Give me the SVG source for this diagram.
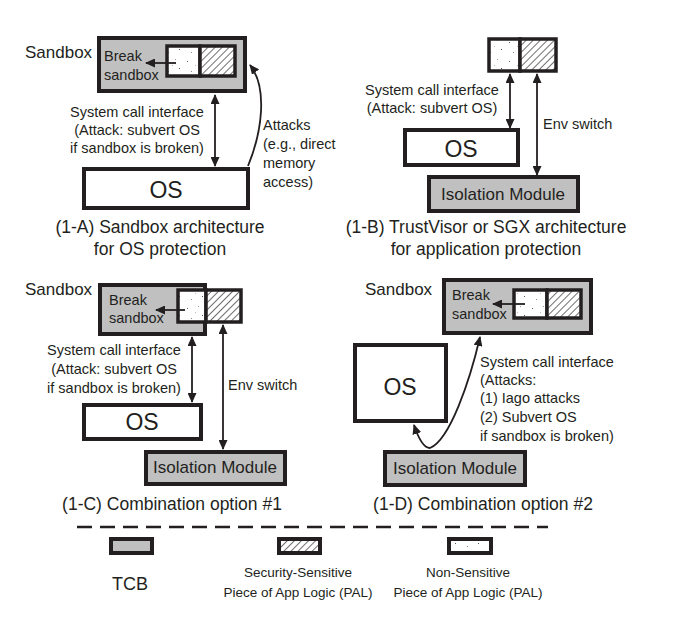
<svg xmlns="http://www.w3.org/2000/svg" width="695" height="620" viewBox="0 0 695 620">
<style>
text{font-family:"Liberation Sans",Arial,sans-serif;fill:#231f20}
.s{font-size:14.5px}
.lbl{font-size:17px}
.os{font-size:23px}
.cap{font-size:17.5px}
.leg{font-size:13.5px}
.m{text-anchor:middle}
.tcb{fill:#c0c0c0;stroke:#231f20;stroke-width:4}
.plain{fill:#fff;stroke:#231f20;stroke-width:4}
.dot{fill:url(#dots);stroke:#231f20;stroke-width:3.5}
.hat{fill:url(#hatch);stroke:#231f20;stroke-width:3.5}
.c{fill:none;stroke:#231f20;stroke-width:1.8}
.a2{marker-start:url(#ah);marker-end:url(#ah)}
.a1{marker-end:url(#ah)}
</style>
<defs>
<pattern id="hatch" patternUnits="userSpaceOnUse" width="5" height="5" patternTransform="rotate(45)">
<rect width="5" height="5" fill="#fff"/>
<line x1="0" y1="0" x2="0" y2="5" stroke="#231f20" stroke-width="1.3"/>
</pattern>
<pattern id="dots" patternUnits="userSpaceOnUse" width="23" height="19">
<rect width="23" height="19" fill="#fff"/>
<rect x="3" y="4" width="1" height="1" fill="#666"/>
<rect x="14" y="2" width="1" height="1" fill="#999"/>
<rect x="18" y="11" width="1" height="1" fill="#555"/>
<rect x="7" y="14" width="1" height="1" fill="#888"/>
<rect x="11" y="8" width="1" height="1" fill="#bbb"/>
</pattern>
<marker id="ah" markerUnits="userSpaceOnUse" markerWidth="10" markerHeight="9" refX="9" refY="4.5" orient="auto-start-reverse">
<path d="M0,0 L10,4.5 L0,9 z" fill="#231f20"/>
</marker>
</defs>

<!-- 1-A -->
<g id="a-sandbox">
<rect class="tcb" x="99" y="38" width="146" height="53"/>
<rect class="dot" x="167" y="46" width="33" height="30"/>
<rect class="hat" x="200" y="46" width="35" height="30"/>
<text class="lbl" x="25" y="58">Sandbox</text>
<text class="s" x="104" y="61">Break</text>
<text class="s" x="104" y="80">sandbox</text>
</g>
<g id="a-os">
<rect class="plain" x="84" y="169" width="164" height="39"/>
<text class="os m" x="166" y="198">OS</text>
</g>
<g id="a-labels">
<text class="s m" x="137" y="117">System call interface</text>
<text class="s m" x="137" y="135">(Attack: subvert OS</text>
<text class="s m" x="137" y="153">if sandbox is broken)</text>
<text class="s" x="263" y="130">Attacks</text>
<text class="s" x="263" y="149">(e.g., direct</text>
<text class="s" x="263" y="168">memory</text>
<text class="s" x="263" y="187">access)</text>
<text class="cap m" x="160" y="233">(1-A) Sandbox architecture</text>
<text class="cap m" x="160" y="255">for OS protection</text>
</g>

<!-- 1-B -->
<g id="b-pal">
<rect class="dot" x="489" y="39" width="31" height="32"/>
<rect class="hat" x="520" y="39" width="36" height="32"/>
</g>
<g id="b-os">
<rect class="plain" x="405" y="130" width="113" height="35"/>
<text class="os m" x="461" y="157">OS</text>
</g>
<g id="b-iso">
<rect class="tcb" x="429" y="177" width="149" height="34"/>
<text class="lbl m" x="503" y="200">Isolation Module</text>
</g>
<g id="b-labels">
<text class="s m" x="432" y="95">System call interface</text>
<text class="s m" x="432" y="113">(Attack: subvert OS)</text>
<text class="s" x="543" y="129">Env switch</text>
<text class="cap m" x="486" y="233">(1-B) TrustVisor or SGX architecture</text>
<text class="cap m" x="486" y="255">for application protection</text>
</g>

<!-- 1-C -->
<g id="c-sandbox">
<rect class="tcb" x="100" y="285" width="105" height="49"/>
<rect class="dot" x="178" y="290" width="28" height="32"/>
<rect class="hat" x="206" y="290" width="35" height="32"/>
<text class="lbl" x="25" y="295">Sandbox</text>
<text class="s" x="109" y="305">Break</text>
<text class="s" x="109" y="323">sandbox</text>
</g>
<g id="c-os">
<rect class="plain" x="84" y="405" width="117" height="34"/>
<text class="os m" x="142" y="430">OS</text>
</g>
<g id="c-iso">
<rect class="tcb" x="146" y="452" width="139" height="32"/>
<text class="lbl m" x="215" y="473">Isolation Module</text>
</g>
<g id="c-labels">
<text class="s m" x="114" y="355">System call interface</text>
<text class="s m" x="114" y="374">(Attack: subvert OS</text>
<text class="s m" x="114" y="393">if sandbox is broken)</text>
<text class="s" x="228" y="390">Env switch</text>
<text class="cap m" x="172" y="510">(1-C) Combination option #1</text>
</g>

<!-- 1-D -->
<g id="d-sandbox">
<rect class="tcb" x="444" y="280" width="147" height="53"/>
<rect class="dot" x="514" y="290" width="33" height="28"/>
<rect class="hat" x="547" y="290" width="34" height="28"/>
<text class="lbl" x="365" y="295">Sandbox</text>
<text class="s" x="452" y="300">Break</text>
<text class="s" x="452" y="319">sandbox</text>
</g>
<g id="d-os">
<rect class="plain" x="355" y="345" width="91" height="76"/>
<text class="os m" x="400" y="395">OS</text>
</g>
<g id="d-iso">
<rect class="tcb" x="385" y="452" width="140" height="33"/>
<text class="lbl m" x="455" y="474">Isolation Module</text>
</g>
<g id="d-labels">
<text class="s" x="480" y="367">System call interface</text>
<text class="s" x="480" y="385">(Attacks:</text>
<text class="s" x="480" y="403">(1) Iago attacks</text>
<text class="s" x="480" y="422">(2) Subvert OS</text>
<text class="s" x="480" y="441">if sandbox is broken)</text>
<text class="cap m" x="483" y="510">(1-D) Combination option #2</text>
</g>

<!-- connectors -->
<g id="connectors">
<line class="c a1" x1="176" y1="63" x2="146" y2="63"/>
<line class="c a2" x1="215" y1="95" x2="215" y2="166"/>
<path class="c a1" d="M248,166 C262,132 268,88 250,65"/>
<line class="c a2" x1="510" y1="74" x2="510" y2="128"/>
<line class="c a2" x1="537" y1="74" x2="537" y2="175"/>
<line class="c a1" x1="185" y1="310" x2="156" y2="310"/>
<line class="c a2" x1="192" y1="337" x2="192" y2="402"/>
<line class="c a2" x1="223" y1="325" x2="223" y2="449"/>
<line class="c a1" x1="525" y1="304" x2="493" y2="304"/>
<path class="c a2" d="M414,425 C419,440 424,448 430,448 C450,440 470,380 480,337"/>
</g>

<!-- legend -->
<g id="legend">
<line x1="77" y1="527" x2="548" y2="527" stroke="#231f20" stroke-width="2.5" stroke-dasharray="15 8"/>
</g>
<g id="legend-tcb">
<rect class="tcb" x="111" y="539" width="41" height="14"/>
<text class="lbl m" x="130" y="590" style="font-size:18px">TCB</text>
</g>
<g id="legend-sensitive">
<rect class="hat" x="279" y="539" width="41" height="14" style="stroke-width:4"/>
<text class="leg m" x="298" y="577">Security-Sensitive</text>
<text class="leg m" x="298" y="597">Piece of App Logic (PAL)</text>
</g>
<g id="legend-nonsensitive">
<rect class="dot" x="449" y="539" width="42" height="14" style="stroke-width:4"/>
<text class="leg m" x="468" y="577">Non-Sensitive</text>
<text class="leg m" x="468" y="597">Piece of App Logic (PAL)</text>
</g>
</svg>
